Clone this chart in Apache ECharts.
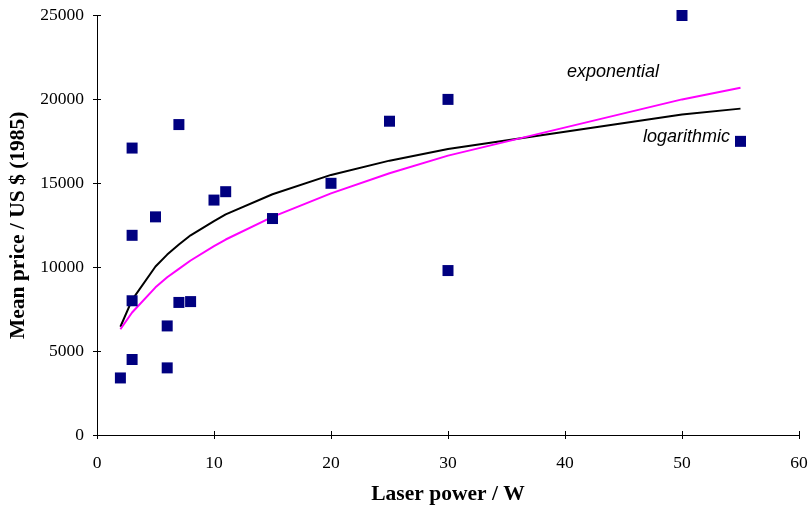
<!DOCTYPE html>
<html><head><meta charset="utf-8">
<script src="https://cdn.jsdelivr.net/npm/echarts@6/dist/echarts.min.js"></script>
<style>html,body{margin:0;padding:0;background:#fff}#c{width:809px;height:506px}</style>
</head><body><div id="c"></div>
<script>
const powerW = [2, 3, 3, 3, 3, 5, 6, 6, 7, 7, 8, 10, 11, 15, 20, 25, 30, 30, 50, 55];
const priceUSD = [3400, 4500, 8000, 11900, 17100, 13000, 4000, 6500, 7900, 18500, 7950, 14000, 14500, 12900, 15000, 18700, 20000, 9800, 25000, 17500];
const trendX = [2, 3, 5, 6, 7, 8, 10, 11, 15, 20, 25, 30, 50, 55];
const logTrend = [6450, 8050, 10040, 10750, 11350, 11900, 12750, 13150, 14350, 15500, 16350, 17050, 19100, 19450];
const expTrend = [6300, 7300, 8800, 9400, 9900, 10400, 11250, 11650, 13000, 14400, 15600, 16650, 20000, 20700];
const xTicks = [0, 10, 20, 30, 40, 50, 60];
const yTicks = [0, 5000, 10000, 15000, 20000, 25000];

const chart = echarts.init(document.getElementById('c'), null, {renderer: 'canvas'});
const serif = '"Liberation Serif", "Times New Roman", serif';
const baseX = {type: 'value', min: 0, max: 60, interval: 10, splitLine: {show: false}};
const baseY = {type: 'value', min: 0, max: 25000, interval: 5000, splitLine: {show: false}};
chart.setOption({
  animation: false,
  grid: {left: 97, right: 10, top: 15.5, bottom: 71, containLabel: false, outerBoundsMode: 'none'},
  xAxis: [
    Object.assign({}, baseX, {
      name: 'Laser power / W', nameLocation: 'middle', nameGap: 48,
      nameTextStyle: {fontFamily: serif, fontWeight: 'bold', fontSize: 21.5, color: '#000'},
      axisLine: {onZero: false, lineStyle: {color: '#000', width: 1}},
      axisTick: {show: true, inside: false, length: 4, lineStyle: {color: '#000'}},
      axisLabel: {fontFamily: serif, fontSize: 17.5, color: '#000', margin: 19,
        formatter: v => xTicks.includes(v) ? String(v) : ''}
    }),
    Object.assign({}, baseX, {
      axisLine: {show: false},
      axisTick: {show: true, inside: true, length: 4, lineStyle: {color: '#000'}},
      axisLabel: {show: false}, position: 'bottom'
    })
  ],
  yAxis: [
    Object.assign({}, baseY, {
      name: 'Mean price / US $ (1985)', nameLocation: 'middle', nameGap: 66,
      nameTextStyle: {fontFamily: serif, fontWeight: 'bold', fontSize: 21.5, color: '#000'},
      axisLine: {show: true, onZero: false, lineStyle: {color: '#000', width: 1}},
      axisTick: {show: true, inside: false, length: 4, lineStyle: {color: '#000'}},
      axisLabel: {fontFamily: serif, fontSize: 17.5, color: '#000', margin: 13,
        formatter: v => yTicks.includes(v) ? String(v) : ''}
    }),
    Object.assign({}, baseY, {
      axisLine: {show: false},
      axisTick: {show: true, inside: true, length: 4, lineStyle: {color: '#000'}},
      axisLabel: {show: false}, position: 'left'
    })
  ],
  series: [
    {
      type: 'line', name: 'logarithmic', data: trendX.map((x, i) => [x, logTrend[i]]),
      showSymbol: false, symbol: 'none', lineStyle: {color: '#000', width: 2}, z: 2
    },
    {
      type: 'line', name: 'exponential', data: trendX.map((x, i) => [x, expTrend[i]]),
      showSymbol: false, symbol: 'none', lineStyle: {color: '#ff00ff', width: 2}, z: 2
    },
    {
      type: 'scatter', name: 'data', data: powerW.map((x, i) => [x, priceUSD[i]]),
      symbol: 'rect', symbolSize: 11, itemStyle: {color: '#000080', opacity: 1}, z: 3
    }
  ],
  graphic: [
    {type: 'text', left: 567, top: 63, style: {text: 'exponential', font: 'italic 18px "Liberation Sans", Arial, sans-serif', fill: '#000'}},
    {type: 'text', left: 643, top: 128, style: {text: 'logarithmic', font: 'italic 18px "Liberation Sans", Arial, sans-serif', fill: '#000'}}
  ]
});
</script></body></html>
